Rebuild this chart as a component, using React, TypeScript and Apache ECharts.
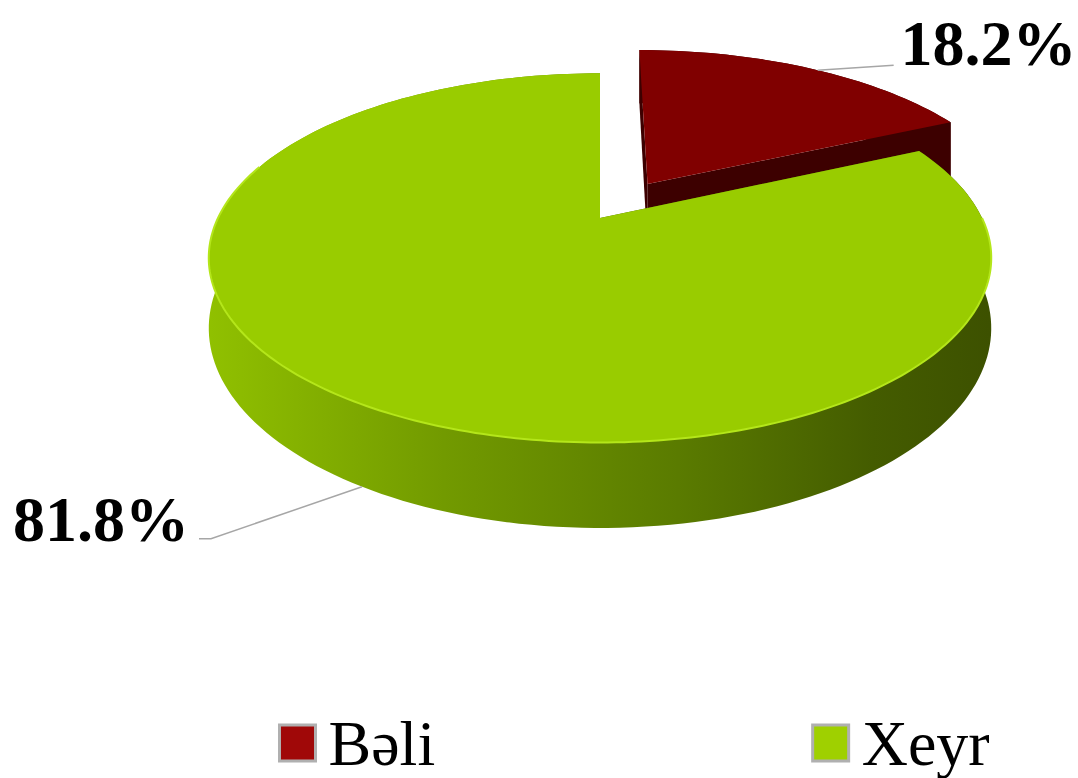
import React, { useEffect, useRef } from "react";
import * as echarts from "echarts";

// ---- data ----
const categories = ["Bəli", "Xeyr"];
const values = [18.2, 81.8];
const labelTexts = ["18.2%", "81.8%"];

// ---- styles ----
const topColors = ["#800000", "#99CC00"];
const legendColors = ["#a00808", "#9fd000"];
const explode = [0.24, 0];

// projection constants (3D perspective look)
const CX = 600;
const CY = 218;
const RB = 382; // horizontal radius
const RA = 176; // vertical radius
const K = 0.216; // perspective
const DEPTH = 67;

function proj(u: number, v: number, z: number): number[] {
  const w = 1 - K * v;
  return [CX + (RB * u) / w, CY + (RA * v + DEPTH * z) / w];
}

const total = values.reduce((a, b) => a + b, 0);

function sliceGeom(i: number, value: number) {
  let cum = 0;
  for (let j = 0; j < i; j++) cum += values[j];
  const start = (2 * Math.PI * cum) / total;
  const end = start + (2 * Math.PI * value) / total;
  const mid = (start + end) / 2;
  const e = explode[i];
  const ou = e * Math.sin(mid);
  const ov = -e * Math.cos(mid);
  const n = Math.max(8, Math.ceil(((end - start) / (2 * Math.PI)) * 240));
  const arc = (z: number) => {
    const pts: number[][] = [];
    for (let s = 0; s <= n; s++) {
      const a = start + ((end - start) * s) / n;
      pts.push(proj(ou + Math.sin(a), ov - Math.cos(a), z));
    }
    return pts;
  };
  const center = (z: number) => proj(ou, ov, z);
  const rimAt = (a: number, z: number) => proj(ou + Math.sin(a), ov - Math.cos(a), z);
  return { start, end, mid, arc, center, rimAt };
}

const greenSide = {
  type: "linear",
  x: 210,
  y: 0,
  x2: 990,
  y2: 0,
  global: true,
  colorStops: [
    { offset: 0, color: "#90c000" },
    { offset: 0.3, color: "#729a00" },
    { offset: 0.6, color: "#5a7b00" },
    { offset: 0.85, color: "#445c00" },
    { offset: 1, color: "#3d5100" },
  ],
};
const sideFills: any[] = ["#3f0000", greenSide];
const faceFills = ["#3d0000", "#4a6400"];

const labelFont = 'bold 64px "Liberation Serif", "Times New Roman", serif';

function renderSlice(params: any, api: any) {
  const i = params.seriesIndex;
  const value = api.value(0);
  const g = sliceGeom(i, value);
  const children: any[] = [];
  const top = g.arc(0);
  const bottom = g.arc(1);
  // rim side
  children.push({
    type: "polygon",
    shape: { points: top.concat(bottom.slice().reverse()) },
    style: { fill: sideFills[i] },
  });
  // radial faces
  for (const a of [g.start, g.end]) {
    children.push({
      type: "polygon",
      shape: { points: [g.center(0), g.rimAt(a, 0), g.rimAt(a, 1), g.center(1)] },
      style: { fill: faceFills[i] },
    });
  }
  // top face
  children.push({
    type: "polygon",
    shape: { points: [g.center(0)].concat(top) },
    style: { fill: topColors[i] },
  });
  if (i === 1) {
    // light highlight along front top edge
    const hl: number[][] = [];
    for (let s = 0; s <= 200; s++) {
      const a = Math.PI / 2 + (Math.PI * 1.1 * s) / 200;
      if (a >= g.start && a <= g.end) hl.push(proj(Math.sin(a), -Math.cos(a), 0));
    }
    children.push({
      type: "polyline",
      shape: { points: hl },
      style: { stroke: "#b4e61a", lineWidth: 2, fill: null },
    });
  }
  // label + leader
  const text = labelTexts[i];
  if (i === 0) {
    const p = g.rimAt(g.mid + 0.03, 0);
    const q = [p[0] + 76, p[1] - 5];
    children.push({
      type: "polyline",
      shape: { points: [p, q] },
      style: { stroke: "#a6a6a6", lineWidth: 1.5, fill: null },
    });
    children.push({
      type: "text",
      style: {
        text,
        x: q[0] + 7,
        y: q[1] - 22,
        fill: "#000",
        font: labelFont,
        align: "left",
        verticalAlign: "middle",
      },
    });
  } else {
    const p = g.rimAt(g.mid - 0.04, 1);
    const q = [p[0] - 151, p[1] + 52];
    const r = [q[0] - 12, q[1]];
    children.push({
      type: "polyline",
      shape: { points: [p, q, r] },
      style: { stroke: "#a6a6a6", lineWidth: 1.5, fill: null },
    });
    children.push({
      type: "text",
      style: {
        text,
        x: r[0] - 10,
        y: r[1] - 19,
        fill: "#000",
        font: labelFont,
        align: "right",
        verticalAlign: "middle",
      },
    });
  }
  return { type: "group", children };
}

export default function App() {
  const ref = useRef<HTMLDivElement>(null);
  useEffect(() => {
    document.body.style.margin = "0";
    const chart = echarts.init(ref.current!, null, { renderer: "svg" });
    chart.setOption({
      animation: false,
      backgroundColor: "#fff",
      legend: {
        top: 706,
        left: 273,
        itemWidth: 36,
        itemHeight: 36,
        itemGap: 376,
        textStyle: {
          fontSize: 64,
          fontFamily: '"Liberation Serif", "Times New Roman", serif',
          color: "#000",
          padding: [0, 0, 0, 8],
        },
        data: categories.map((name, i) => ({
          name,
          icon: "rect",
          itemStyle: { color: legendColors[i], borderColor: "#b0b0b0", borderWidth: 3 },
        })),
      },
      series: categories.map((name, i) => ({
        type: "custom",
        name,
        coordinateSystem: "none",
        clip: false,
        itemStyle: { color: topColors[i] },
        data: [[values[i]]],
        renderItem: renderSlice,
      })),
    });
    return () => chart.dispose();
  }, []);
  return <div ref={ref} style={{ width: 1078, height: 778 }} />;
}
